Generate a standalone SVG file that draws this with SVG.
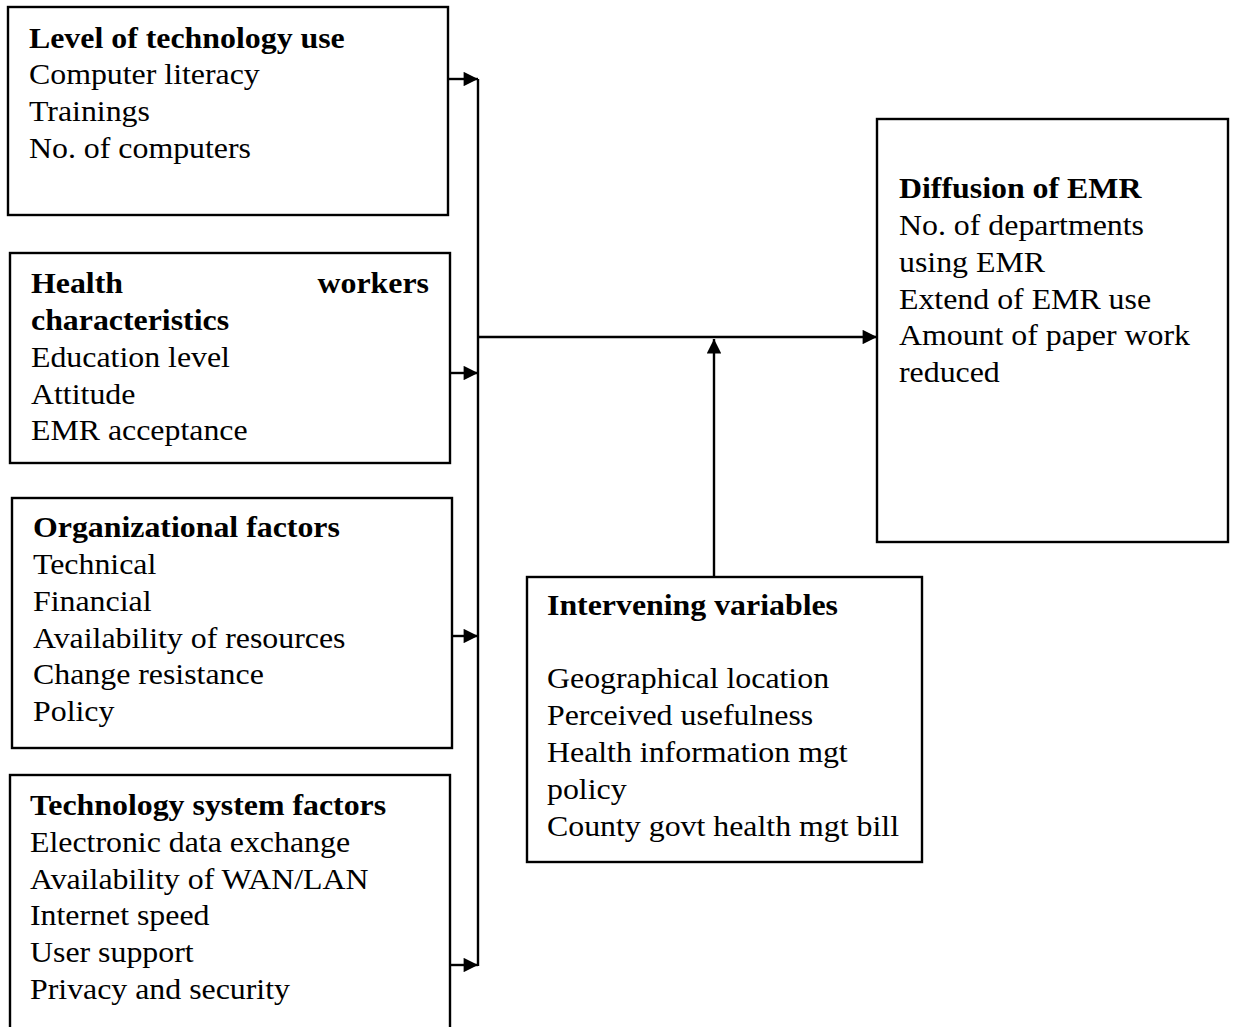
<svg xmlns="http://www.w3.org/2000/svg" width="1233" height="1027" viewBox="0 0 1233 1027">
<style>
.box{fill:#fff;stroke:#000;stroke-width:2.4}
.ln{fill:none;stroke:#000;stroke-width:2.4}
text{font-family:"Liberation Serif","Times New Roman",serif;font-size:29.5px;fill:#000}
.b{font-weight:bold}
</style>
<defs>
<marker id="ah2" viewBox="0 0 10 10" refX="10" refY="5" markerWidth="7" markerHeight="6" orient="auto">
<path d="M0,0 L10,5 L0,10 z" fill="#000"/>
</marker>
</defs>
<rect width="1233" height="1027" fill="#fff"/>
<g id="connectors">
<line class="ln" x1="478" y1="79" x2="478" y2="966"/>
<line class="ln" x1="448" y1="79" x2="478" y2="79" marker-end="url(#ah2)"/>
<line class="ln" x1="451" y1="373" x2="478" y2="373" marker-end="url(#ah2)"/>
<line class="ln" x1="452" y1="636" x2="478" y2="636" marker-end="url(#ah2)"/>
<line class="ln" x1="450" y1="965" x2="478" y2="965" marker-end="url(#ah2)"/>
<line class="ln" x1="478" y1="337" x2="877" y2="337" marker-end="url(#ah2)"/>
<line class="ln" x1="714" y1="577" x2="714" y2="339" marker-end="url(#ah2)"/>
</g>
<g id="level">
<rect class="box" x="8" y="7" width="440" height="208"/>
<text class="b" transform="translate(29,48) scale(1.08,1)">Level of technology use</text>
<text transform="translate(29,84) scale(1.08,1)">Computer literacy</text>
<text transform="translate(29,121) scale(1.08,1)">Trainings</text>
<text transform="translate(29,158) scale(1.08,1)">No. of computers</text>
</g>
<g id="health">
<rect class="box" x="10" y="253" width="440" height="210"/>
<text class="b" transform="translate(31,293) scale(1.08,1)">Health</text>
<text class="b" text-anchor="end" transform="translate(429,293) scale(1.08,1)">workers</text>
<text class="b" transform="translate(31,330) scale(1.08,1)">characteristics</text>
<text transform="translate(31,367) scale(1.08,1)">Education level</text>
<text transform="translate(31,404) scale(1.08,1)">Attitude</text>
<text transform="translate(31,440) scale(1.08,1)">EMR acceptance</text>
</g>
<g id="org">
<rect class="box" x="12" y="498" width="440" height="250"/>
<text class="b" transform="translate(33,537) scale(1.08,1)">Organizational factors</text>
<text transform="translate(33,574) scale(1.08,1)">Technical</text>
<text transform="translate(33,611) scale(1.08,1)">Financial</text>
<text transform="translate(33,648) scale(1.08,1)">Availability of resources</text>
<text transform="translate(33,684) scale(1.08,1)">Change resistance</text>
<text transform="translate(33,721) scale(1.08,1)">Policy</text>
</g>
<g id="techsys">
<rect class="box" x="10" y="775" width="440" height="270"/>
<text class="b" transform="translate(30,815) scale(1.08,1)">Technology system factors</text>
<text transform="translate(30,852) scale(1.08,1)">Electronic data exchange</text>
<text transform="translate(30,889) scale(1.08,1)">Availability of WAN/LAN</text>
<text transform="translate(30,925) scale(1.08,1)">Internet speed</text>
<text transform="translate(30,962) scale(1.08,1)">User support</text>
<text transform="translate(30,999) scale(1.08,1)">Privacy and security</text>
</g>
<g id="diffusion">
<rect class="box" x="877" y="119" width="351" height="423"/>
<text class="b" transform="translate(899,198) scale(1.08,1)">Diffusion of EMR</text>
<text transform="translate(899,235) scale(1.08,1)">No. of departments</text>
<text transform="translate(899,272) scale(1.08,1)">using EMR</text>
<text transform="translate(899,309) scale(1.08,1)">Extend of EMR use</text>
<text transform="translate(899,345) scale(1.08,1)">Amount of paper work</text>
<text transform="translate(899,382) scale(1.08,1)">reduced</text>
</g>
<g id="intervening">
<rect class="box" x="527" y="577" width="395" height="285"/>
<text class="b" transform="translate(547,615) scale(1.08,1)">Intervening variables</text>
<text transform="translate(547,688) scale(1.08,1)">Geographical location</text>
<text transform="translate(547,725) scale(1.08,1)">Perceived usefulness</text>
<text transform="translate(547,762) scale(1.08,1)">Health information mgt</text>
<text transform="translate(547,799) scale(1.08,1)">policy</text>
<text transform="translate(547,836) scale(1.08,1)">County govt health mgt bill</text>
</g>
</svg>
